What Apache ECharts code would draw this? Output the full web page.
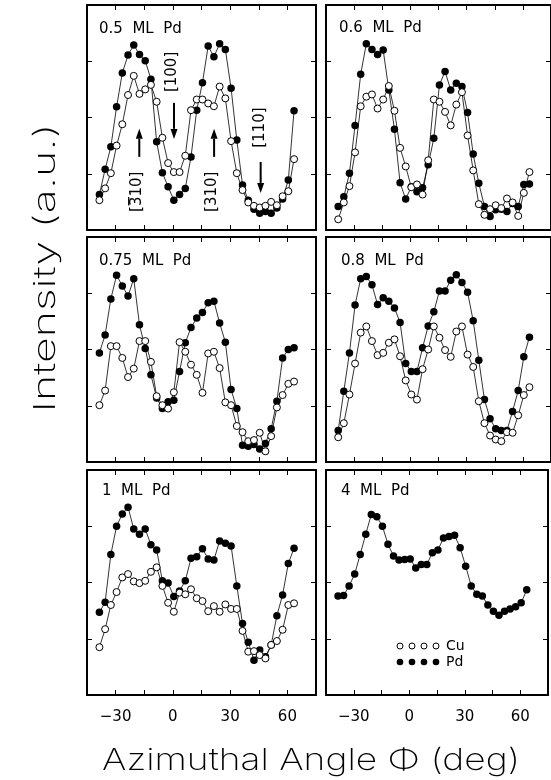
<!DOCTYPE html>
<html><head><meta charset="utf-8">
<script src="https://cdn.jsdelivr.net/npm/echarts@6/dist/echarts.min.js"></script>
<style>html,body{margin:0;padding:0;background:#fff}#c{width:551px;height:780px}</style>
</head><body><div id="c"></div>
<script>
// Azimuthal angles (deg) of the measured points
const ANGLES = [-38.5,-35.5,-32.5,-29.5,-26.5,-23.5,-20.5,-17.5,-14.5,-11.5,-8.5,-5.5,-2.5,0.5,3.5,6.5,9.5,12.5,15.5,18.5,21.5,24.5,27.5,30.5,33.5,36.5,39.5,42.5,45.5,48.5,51.5,54.5,57.5,60.5,63.5];
const X_TICKS = [-30, 0, 30, 60];
const PANEL_TITLES = ['0.5  ML  Pd', '0.6  ML  Pd', '0.75  ML  Pd', '0.8  ML  Pd', '1  ML  Pd', '4  ML  Pd'];

const PD_05 = [0.63,1.08,1.48,2.19,2.79,3.11,3.29,3.12,3.01,2.68,1.57,1.02,0.77,0.53,0.63,0.74,1.30,2.13,2.62,3.27,3.08,3.31,3.21,2.52,1.60,0.80,0.53,0.37,0.30,0.33,0.30,0.39,0.55,0.89,2.12];
const CU_05 = [0.53,0.74,1.01,1.50,1.88,2.40,2.74,2.42,2.50,2.58,2.28,1.64,1.19,1.03,1.03,1.32,2.13,2.32,2.32,2.25,2.20,2.55,2.34,1.58,1.01,0.71,0.49,0.43,0.40,0.43,0.50,0.44,0.60,0.69,1.26];
const PD_06 = [0.42,0.59,1.01,1.86,2.77,3.31,3.21,3.12,3.20,2.49,1.79,0.84,0.55,0.77,0.68,0.75,1.16,1.63,2.58,2.82,2.49,2.61,2.55,2.09,1.35,0.83,0.42,0.24,0.36,0.37,0.33,0.47,0.42,0.81,0.82];
const CU_06 = [0.19,0.49,0.78,1.38,2.20,2.37,2.41,2.16,2.32,2.56,2.12,1.46,1.13,0.76,0.81,0.63,1.24,2.32,2.28,2.10,1.86,2.23,2.45,1.68,1.06,0.46,0.27,0.37,0.44,0.39,0.56,0.49,0.25,0.66,1.03];
const PD_075 = [1.94,2.26,2.90,3.32,3.13,2.95,3.26,2.44,2.02,1.55,1.14,0.95,1.07,1.10,1.61,2.12,2.39,2.56,2.66,2.83,2.86,2.47,2.13,1.29,0.95,0.30,0.28,0.31,0.23,0.33,0.59,1.08,1.85,2.00,2.03];
const CU_075 = [1.01,1.27,2.06,2.06,1.85,1.51,1.66,2.15,2.15,1.78,1.17,1.01,0.95,1.24,2.13,1.96,1.73,1.55,1.23,1.93,1.96,1.67,1.06,1.01,0.64,0.53,0.37,0.39,0.52,0.19,0.46,0.97,1.19,1.39,1.43];
const PD_08 = [0.56,1.26,1.94,2.79,3.26,3.30,3.15,2.80,2.92,2.86,2.74,2.48,1.75,1.61,1.61,2.03,2.42,2.67,3.04,3.04,3.23,3.33,3.19,3.02,2.51,1.81,1.11,0.77,0.59,0.56,0.56,0.90,1.27,1.87,2.22];
const CU_08 = [0.44,0.69,1.20,1.75,2.30,2.41,2.15,1.90,1.94,2.12,2.18,1.88,1.45,1.20,1.11,1.65,2.00,2.41,2.21,1.99,1.87,2.32,2.41,1.91,1.69,1.08,0.69,0.47,0.40,0.37,0.53,0.52,0.83,1.19,1.33];
const PD_1 = [1.47,1.65,2.50,3.00,3.22,3.34,2.95,2.86,2.95,2.67,2.58,2.03,1.99,1.75,1.85,2.03,2.43,2.46,2.60,2.42,2.40,2.74,2.70,2.65,1.94,1.27,0.94,0.62,0.80,0.68,0.89,1.41,1.78,2.34,2.61];
const CU_1 = [0.85,1.17,1.60,1.83,2.09,2.15,2.02,1.99,2.03,2.19,2.27,1.94,1.64,1.48,1.82,1.79,1.88,1.72,1.67,1.49,1.58,1.48,1.61,1.53,1.53,1.14,0.77,0.78,0.71,0.65,0.89,0.96,1.16,1.60,1.63];
const PD_4 = [1.76,1.77,1.94,2.15,2.50,2.86,3.21,3.17,3.00,2.68,2.47,2.40,2.41,2.42,2.26,2.32,2.32,2.53,2.58,2.79,2.82,2.84,2.62,2.29,1.94,1.79,1.76,1.60,1.49,1.42,1.49,1.53,1.57,1.64,1.87];

// Annotations in the 0.5 ML panel: [label, labelX, labelY, arrowX, arrowFromY, arrowToY, barred]
const ANNOTATIONS = [
  ['[310]', -18.5, 0.68, -17.6, 1.30, 1.80, true],
  ['[100]', -0.5, 2.81, 0.6, 2.26, 1.62, false],
  ['[310]', 20.8, 0.68, 21.6, 1.30, 1.80, false],
  ['[110]', 45.6, 1.82, 46.0, 1.21, 0.66, false]
];

const PANELS = [
  {pd: PD_05, cu: CU_05}, {pd: PD_06, cu: CU_06},
  {pd: PD_075, cu: CU_075}, {pd: PD_08, cu: CU_08},
  {pd: PD_1, cu: CU_1}, {pd: PD_4, cu: null}
];

const FONT = 'DejaVu Sans';
const TITLE_FONT = 'Inter';
const chart = echarts.init(document.getElementById('c'), null, {renderer: 'canvas'});

const GRID_LEFT = [87, 326];
const GRID_TOP = [5, 237, 470];
const grids = [], xAxes = [], yAxes = [], series = [], titles = [];
const TITLE_POS = [[99, 22], [339, 21], [99, 254], [341, 254], [102, 484], [341, 484]];

function fmtX(v) {
  if (X_TICKS.indexOf(v) < 0) return '';
  return v < 0 ? '\u2212' + (-v) : String(v);
}

PANELS.forEach((p, i) => {
  const col = i % 2, row = Math.floor(i / 2);
  grids.push({left: GRID_LEFT[col], top: GRID_TOP[row], width: 229, height: 225});
  const isBottom = row === 2;
  ['bottom', 'top'].forEach(pos => {
    xAxes.push({type: 'value', gridIndex: i, position: pos, min: -45, max: 75, interval: 15,
      axisLine: {show: true, onZero: false, lineStyle: {color: '#000', width: 2}},
      axisTick: {show: true, inside: true, length: 5, lineStyle: {color: '#000', width: 1}},
      axisLabel: {show: isBottom && pos === 'bottom', margin: 15, color: '#000', fontSize: 15,
        fontFamily: FONT, formatter: fmtX, showMinLabel: true, showMaxLabel: true},
      splitLine: {show: false}});
  });
  ['left', 'right'].forEach(pos => {
    yAxes.push({type: 'value', gridIndex: i, position: pos, min: 0, max: 4, interval: 1,
      axisLine: {show: true, onZero: false, lineStyle: {color: '#000', width: 2}},
      axisTick: {show: true, inside: true, length: 5, lineStyle: {color: '#000', width: 1}},
      axisLabel: {show: false}, splitLine: {show: false}});
  });
  const xi = i * 2, yi = i * 2;
  if (p.cu) {
    series.push({type: 'line', xAxisIndex: xi, yAxisIndex: yi, name: 'Cu',
      data: ANGLES.map((a, k) => [a, p.cu[k]]),
      symbol: 'circle', symbolSize: 7, z: 3,
      itemStyle: {color: '#fff', borderColor: '#000', borderWidth: 1},
      lineStyle: {color: '#000', width: 0.8}, animation: false});
  }
  series.push({type: 'line', xAxisIndex: xi, yAxisIndex: yi, name: 'Pd',
    data: ANGLES.map((a, k) => [a, p.pd[k]]),
    symbol: 'circle', symbolSize: 7.5, z: 2,
    itemStyle: {color: '#000', borderColor: '#000', borderWidth: 0},
    lineStyle: {color: '#000', width: 0.8}, animation: false});
  titles.push({text: PANEL_TITLES[i], left: TITLE_POS[i][0], top: TITLE_POS[i][1], padding: 0,
    textStyle: {fontFamily: FONT, fontSize: 15, fontWeight: 'normal', color: '#000'}});
});

chart.setOption({
  animation: false,
  backgroundColor: '#fff',
  title: titles,
  grid: grids, xAxis: xAxes, yAxis: yAxes, series: series
});

// Graphic annotations, positioned through the chart's own scales
const graphics = [];
const mctx = document.createElement('canvas').getContext('2d');
function textWidth(t, size, family, weight) {
  mctx.font = (weight || 'normal') + ' ' + size + 'px "' + family + '"';
  const w = mctx.measureText(t).width;
  return w > 0 ? w : t.length * size * 0.6;
}
ANNOTATIONS.forEach(a => {
  const lp = chart.convertToPixel({gridIndex: 0}, [a[1], a[2]]);
  graphics.push({type: 'text', x: lp[0], y: lp[1], rotation: Math.PI / 2, z: 10,
    style: {text: a[0], fontFamily: FONT, fontSize: 15, fill: '#000', align: 'center', verticalAlign: 'middle'}});
  if (a[6]) {
    // overline on the "3" (glyph tops face left after rotation)
    const w = textWidth(a[0], 15, FONT);
    const wb = textWidth('[', 15, FONT), w3 = textWidth('3', 15, FONT);
    const yStart = lp[1] + w / 2 - wb;
    graphics.push({type: 'rect', z: 11, shape: {x: lp[0] - 9.5, y: yStart - w3 + 0.5, width: 1.3, height: w3 - 1},
      style: {fill: '#000'}});
  }
  const p1 = chart.convertToPixel({gridIndex: 0}, [a[3], a[4]]);
  const p2 = chart.convertToPixel({gridIndex: 0}, [a[3], a[5]]);
  const dir = p2[1] > p1[1] ? 1 : -1;
  const hl = 10, hw = 3.5;
  graphics.push({type: 'line', z: 10, shape: {x1: p1[0], y1: p1[1], x2: p2[0], y2: p2[1] - dir * hl},
    style: {stroke: '#000', lineWidth: 2}});
  graphics.push({type: 'polygon', z: 10, shape: {points: [[p2[0] - hw, p2[1] - dir * hl], [p2[0] + hw, p2[1] - dir * hl], [p2[0], p2[1]]]},
    style: {fill: '#000'}});
});

// Legend in the 4 ML panel
const LEG_X = [400, 412, 424, 436];
LEG_X.forEach(x => {
  graphics.push({type: 'circle', shape: {cx: x, cy: 646, r: 3}, style: {fill: '#fff', stroke: '#000', lineWidth: 1}});
  graphics.push({type: 'circle', shape: {cx: x, cy: 662, r: 3.3}, style: {fill: '#000'}});
});
graphics.push({type: 'text', x: 446, y: 646, style: {text: 'Cu', fontFamily: FONT, fontSize: 14, fill: '#000', verticalAlign: 'middle'}});
graphics.push({type: 'text', x: 446, y: 662, style: {text: 'Pd', fontFamily: FONT, fontSize: 14, fill: '#000', verticalAlign: 'middle'}});

// Axis titles (stretched along the text direction to match the wide lettering)
const YT = 'Intensity (a.u.)', XT = 'Azimuthal Angle \u03a6 (deg)';
const ySx = 289 / textWidth(YT, 30, TITLE_FONT, 200);
const xSx = 418 / textWidth(XT, 30, TITLE_FONT, 200);
graphics.push({type: 'text', x: 46, y: 268, rotation: Math.PI / 2, scaleX: ySx,
  style: {text: YT, fontFamily: TITLE_FONT, fontSize: 30, fontWeight: 200, fill: '#000', align: 'center', verticalAlign: 'middle'}});
graphics.push({type: 'text', x: 311, y: 761, scaleX: xSx,
  style: {text: XT, fontFamily: TITLE_FONT, fontSize: 30, fontWeight: 200, fill: '#000', align: 'center', verticalAlign: 'middle'}});

chart.setOption({graphic: graphics});
</script>
</body></html>
